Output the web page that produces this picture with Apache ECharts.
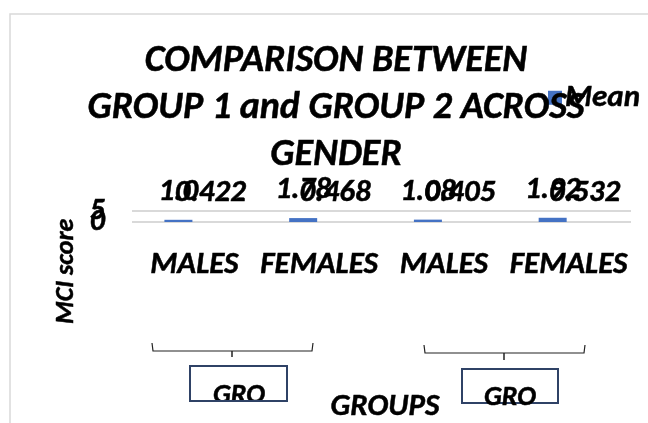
<!DOCTYPE html>
<html>
<head>
<meta charset="utf-8">
<script src="https://cdn.jsdelivr.net/npm/echarts@6/dist/echarts.min.js"></script>
<style>html,body{margin:0;padding:0;background:#fff;}#chart{width:648px;height:423px;}</style>
</head>
<body>
<div id="chart"></div>
<script>
const categories = ['MALES', 'FEMALES', 'MALES', 'FEMALES'];
const meanValues = [1.0, 1.78, 1.08, 1.92];
const meanLabels = ['1.0', '1.78', '1.08', '1.92'];
const sdValues = [0.422, 0.468, 0.405, 0.532];
const sdLabels = ['0.422', '0.468', '0.405', '0.532'];
const groupLabels = ['GRO', 'GRO'];
const yTicks = [0, 5];

const FONT = 'Carlito, Lato, sans-serif';
const bi = { fontFamily: FONT, fontWeight: 700, fontStyle: 'italic', color: '#000', textBorderColor: '#000', textBorderWidth: 0.5 };
const gbi = { fill: '#000', stroke: '#000', lineWidth: 0.5 };

const yAxisBase = {
  type: 'value', min: yTicks[0], max: yTicks[1], interval: 5,
  axisLine: { show: false }, axisTick: { show: false }
};

const chart = echarts.init(document.getElementById('chart'));
chart.setOption({
  animation: false,
  backgroundColor: '#fff',
  title: {
    text: 'COMPARISON BETWEEN\nGROUP 1 and GROUP 2 ACROSS\nGENDER',
    left: 336, top: 38, textAlign: 'center', padding: 0,
    textStyle: Object.assign({}, bi, { fontSize: 38, lineHeight: 47 })
  },
  legend: {
    data: ['Mean'], left: 548, top: 82, icon: 'rect', itemWidth: 14, itemHeight: 14, itemGap: 4,
    textStyle: Object.assign({}, bi, { fontSize: 31, padding: [0, 0, 0, -2] }), padding: 0
  },
  grid: { left: 132, right: 17, top: 211, bottom: 201 },
  xAxis: {
    type: 'category', data: categories,
    axisLine: { show: false }, axisTick: { show: false },
    axisLabel: Object.assign({}, bi, { fontSize: 31, margin: 28, interval: 0 })
  },
  yAxis: [
    Object.assign({}, yAxisBase, {
      splitLine: { lineStyle: { color: '#d9d9d9', width: 2 } },
      axisLabel: Object.assign({}, bi, { fontSize: 30, margin: 27, formatter: v => (v === yTicks[0] ? String(v) : '') })
    }),
    Object.assign({}, yAxisBase, {
      position: 'left', splitLine: { show: false },
      axisLabel: Object.assign({}, bi, { fontSize: 30, margin: 27, formatter: v => (v === yTicks[1] ? String(v) : '') })
    })
  ],
  series: [
    {
      name: 'Mean', type: 'bar', data: meanValues, barWidth: 28, barGap: '14%',
      itemStyle: { color: '#4472C4' },
      label: Object.assign({ show: true, position: 'top', distance: 12, fontSize: 31,
        formatter: p => meanLabels[p.dataIndex] }, bi)
    },
    {
      name: 'SD', type: 'bar', data: sdValues, barWidth: 28,
      itemStyle: { color: 'rgba(0,0,0,0)' },
      label: Object.assign({ show: true, position: 'top', distance: 12, fontSize: 31,
        formatter: p => sdLabels[p.dataIndex] }, bi)
    }
  ],
  graphic: [
    { type: 'rect', shape: { x: 10, y: 14, width: 700, height: 500 }, style: { fill: 'none', stroke: '#d9d9d9', lineWidth: 1.5 }, z: 0 },
    { type: 'text', rotation: Math.PI / 2, x: 53, y: 324,
      style: Object.assign({ text: 'MCI score', font: 'italic bold 26px ' + FONT, textVerticalAlign: 'top' }, gbi) },
    { type: 'text', x: 385, y: 407, style: Object.assign({ text: 'GROUPS', font: 'italic bold 31px ' + FONT, textAlign: 'center', textVerticalAlign: 'middle' }, gbi) },
    { type: 'polyline', shape: { points: [[152, 343], [153, 351], [312, 351], [313, 343]] }, style: { stroke: '#222', lineWidth: 1.2, fill: 'none' } },
    { type: 'line', shape: { x1: 232, y1: 351, x2: 232, y2: 357 }, style: { stroke: '#222', lineWidth: 1.5 } },
    { type: 'polyline', shape: { points: [[424, 345], [425, 353], [584, 353], [585, 345]] }, style: { stroke: '#222', lineWidth: 1.2, fill: 'none' } },
    { type: 'line', shape: { x1: 504, y1: 353, x2: 504, y2: 360 }, style: { stroke: '#222', lineWidth: 1.5 } },
    { type: 'text', x: 239, y: 382, z: 10, style: Object.assign({ text: groupLabels[0], font: 'italic bold 28px ' + FONT, textAlign: 'center', textVerticalAlign: 'top' }, gbi) },
    { type: 'rect', shape: { x: 185, y: 402, width: 110, height: 21 }, style: { fill: '#fff' }, z: 11 },
    { type: 'rect', shape: { x: 190, y: 366, width: 97, height: 35 }, style: { fill: 'none', stroke: '#2F4266', lineWidth: 2 }, z: 12 },
    { type: 'rect', shape: { x: 462, y: 369, width: 96, height: 34 }, style: { fill: 'none', stroke: '#2F4266', lineWidth: 2 }, z: 12 },
    { type: 'text', x: 510, y: 384, z: 13, style: Object.assign({ text: groupLabels[1], font: 'italic bold 28px ' + FONT, textAlign: 'center', textVerticalAlign: 'top' }, gbi) }
  ]
});
</script>
</body>
</html>
